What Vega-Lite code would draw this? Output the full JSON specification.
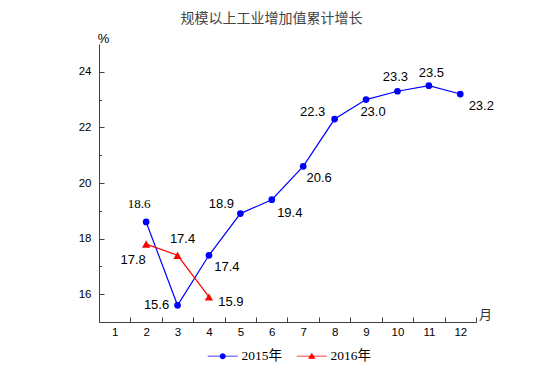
{
  "$schema": "https://vega.github.io/schema/vega-lite/v6.json",
  "width": 377,
  "height": 278,
  "autosize": "none",
  "padding": {"left": 99, "top": 44, "right": 78, "bottom": 65},
  "background": "white",
  "title": {
    "text": "规模以上工业增加值累计增长",
    "font": "Noto Sans CJK SC",
    "fontSize": 14,
    "fontWeight": "normal",
    "color": "#444444",
    "anchor": "middle",
    "dx": -16,
    "offset": 6
  },
  "data": {
    "values": [
      {"series": "2015年", "month": 2, "value": 18.6},
      {"series": "2015年", "month": 3, "value": 15.6},
      {"series": "2015年", "month": 4, "value": 17.4},
      {"series": "2015年", "month": 5, "value": 18.9},
      {"series": "2015年", "month": 6, "value": 19.4},
      {"series": "2015年", "month": 7, "value": 20.6},
      {"series": "2015年", "month": 8, "value": 22.3},
      {"series": "2015年", "month": 9, "value": 23.0},
      {"series": "2015年", "month": 10, "value": 23.3},
      {"series": "2015年", "month": 11, "value": 23.5},
      {"series": "2015年", "month": 12, "value": 23.2},
      {"series": "2016年", "month": 2, "value": 17.8},
      {"series": "2016年", "month": 3, "value": 17.4},
      {"series": "2016年", "month": 4, "value": 15.9}
    ]
  },
  "encoding": {
    "x": {
      "field": "month",
      "type": "quantitative",
      "scale": {"domain": [0.5, 12.5], "nice": false, "zero": false},
      "axis": {
        "values": [1, 2, 3, 4, 5, 6, 7, 8, 9, 10, 11, 12],
        "tickOffset": 15.7,
        "labelOffset": -15.7,
        "tickSize": -5,
        "labelPadding": 9,
        "labelFlush": false,
        "labelOverlap": false,
        "title": "月",
        "titleX": 386,
        "titleY": -8,
        "titleAngle": 0,
        "titleAlign": "center",
        "titleBaseline": "middle",
        "titleFont": "Noto Sans CJK SC",
        "titleFontSize": 13,
        "titleFontWeight": "normal",
        "titleColor": "#333333"
      }
    },
    "y": {
      "field": "value",
      "type": "quantitative",
      "scale": {"domain": [15, 25], "nice": false, "zero": false},
      "axis": {
        "values": [16, 17, 18, 19, 20, 21, 22, 23, 24],
        "labelExpr": "datum.value % 2 === 0 ? datum.label : ''",
        "tickSize": {"condition": {"test": "datum.value % 2 === 1", "value": -2.5}, "value": -5},
        "labelPadding": 13,
        "title": "%",
        "titleX": 4,
        "titleY": -2,
        "titleAngle": 0,
        "titleAlign": "center",
        "titleBaseline": "alphabetic",
        "titleFont": "Liberation Sans",
        "titleFontSize": 13,
        "titleFontWeight": "normal",
        "titleColor": "#000000"
      }
    }
  },
  "layer": [
    {
      "mark": {"type": "line", "strokeWidth": 1.2},
      "encoding": {
        "color": {"field": "series", "type": "nominal", "scale": {"domain": ["2015年", "2016年"], "range": ["#0000FF", "#FF0000"]}, "legend": null}
      }
    },
    {
      "mark": {"type": "point", "filled": true, "opacity": 1},
      "encoding": {
        "color": {"field": "series", "type": "nominal", "scale": {"domain": ["2015年", "2016年"], "range": ["#0000FF", "#FF0000"]}, "legend": null},
        "shape": {"field": "series", "type": "nominal", "scale": {"domain": ["2015年", "2016年"], "range": ["circle", "triangle-up"]}, "legend": null},
        "size": {"field": "series", "type": "nominal", "scale": {"domain": ["2015年", "2016年"], "range": [45, 69]}, "legend": null}
      }
    },
    {
      "mark": {"type": "point", "filled": true, "opacity": 0},
      "encoding": {
        "color": {"field": "series", "type": "nominal", "scale": {"domain": ["2015年", "2016年"], "range": ["#0000FF", "#FF0000"]}, "legend": {}},
        "shape": {"field": "series", "type": "nominal", "scale": {"domain": ["2015年", "2016年"], "range": ["M-2.5,-0.08H2.5V0.08H-2.5Z M0.5,0A0.5,0.5,0,1,1,-0.5,0A0.5,0.5,0,1,1,0.5,0Z", "M-2.5,-0.08H2.5V0.08H-2.5Z M0,-0.55L0.62,0.45H-0.62Z"]}, "legend": {}}
      }
    },
    {
      "mark": {
        "type": "text",
        "fontSize": 13,
        "baseline": "middle",
        "align": "center",
        "color": "#000000",
        "font": {"expr": "datum.series == '2015年' && datum.month == 2 ? 'Liberation Serif' : 'Liberation Sans'"},
        "dx": {"expr": "datum.series == '2015年' ? [0,0,-7,-21,18,-19,18,16,-22,7,-2,2.5,21][datum.month] : [0,0,-13,5,22][datum.month]"},
        "dy": {"expr": "datum.series == '2015年' ? [0,0,-18,0,12,-10,13,12,-7,12,-14,-13,12][datum.month] : [0,0,16,-16,5][datum.month]"}
      },
      "encoding": {
        "text": {"field": "value", "type": "quantitative", "format": ".1f"}
      }
    }
  ],
  "resolve": {"scale": {"color": "independent", "shape": "independent", "size": "independent"}},
  "config": {
    "view": {"stroke": null},
    "axis": {
      "grid": false,
      "domainColor": "#404040",
      "tickColor": "#404040",
      "labelColor": "#000000",
      "labelFont": "Liberation Sans",
      "labelFontSize": 11.5
    },
    "legend": {
      "orient": "none",
      "direction": "horizontal",
      "legendX": 117,
      "legendY": 305,
      "title": null,
      "symbolSize": 144,
      "symbolOpacity": 1,
      "symbolStrokeWidth": 0,
      "labelFont": "Liberation Serif, Noto Sans CJK SC",
      "labelFontSize": 13.5,
      "labelColor": "#000000",
      "labelOffset": 12,
      "columnPadding": 14,
      "padding": 0
    }
  }
}
